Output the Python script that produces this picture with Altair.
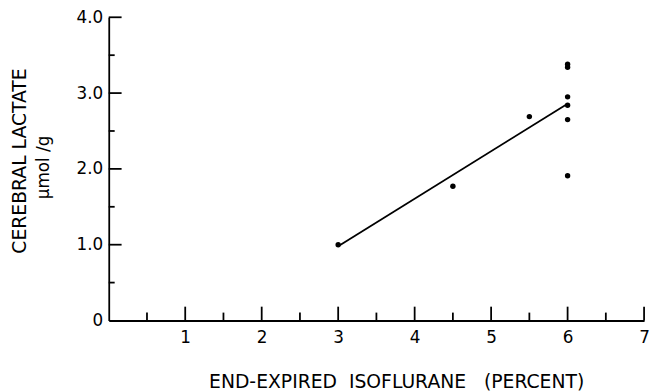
import altair as alt
import pandas as pd

# ---- data ----
conc = [3.0, 4.5, 5.5, 6.0, 6.0, 6.0, 6.0, 6.0, 6.0]
lactate = [1.0, 1.77, 2.69, 3.38, 3.34, 2.95, 2.84, 2.65, 1.91]
fit_conc = [3.0, 6.0]
fit_lactate = [0.98, 2.86]

x_labels = [1, 2, 3, 4, 5, 6, 7]
y_labels = [0, 1, 2, 3, 4]
x_major = [1, 2, 3, 4, 5, 6, 7]
x_minor = [0.5, 1.5, 2.5, 3.5, 4.5, 5.5, 6.5]
y_major = [1, 2, 3, 4]
y_minor = [0.5, 1.5, 2.5, 3.5]

NB = "\u00a0"
x_title = "END-EXPIRED" + NB + " ISOFLURANE" + NB + NB + " (PERCENT)"
y_title = "CEREBRAL LACTATE"
unit_label = "\u00b5mol /g"

W, H = 542, 307
FONT = "DejaVu Sans"
SW = 1.8

xs = alt.Scale(domain=[0, 7], nice=False, zero=True)
ys = alt.Scale(domain=[0, 4], nice=False, zero=True)

pts = pd.DataFrame({"conc": conc, "lactate": lactate})
fit = pd.DataFrame({"conc": fit_conc, "lactate": fit_lactate})

x_axis = alt.Axis(
    values=x_labels, format="d", ticks=False, tickSize=0, grid=False,
    domainColor="black", domainWidth=SW,
    labelFont=FONT, labelFontSize=17, labelColor="black", labelPadding=9,
    labelFlush=False, labelOverlap=False,
    title=x_title, titleFont=FONT, titleFontSize=19, titleFontWeight="normal",
    titleColor="black", titleX=291, titleY=68, titleAlign="center",
    titleBaseline="alphabetic",
)
y_axis = alt.Axis(
    values=y_labels, ticks=False, tickSize=0, grid=False,
    labelExpr="datum.value == 0 ? '0' : format(datum.value, '.1f')",
    domainColor="black", domainWidth=SW,
    labelFont=FONT, labelFontSize=17, labelColor="black", labelPadding=6,
    labelFlush=False, labelOverlap=False, labelBaseline="middle",
    title=y_title, titleFont=FONT, titleFontSize=19, titleFontWeight="normal",
    titleColor="black", titleAngle=270, titleX=-84, titleY=145,
    titleAlign="center", titleBaseline="alphabetic",
)

X = alt.X("conc:Q", scale=xs, axis=x_axis)
Y = alt.Y("lactate:Q", scale=ys, axis=y_axis)

points = alt.Chart(pts).mark_circle(size=30, color="black", opacity=1).encode(x=X, y=Y)

line = alt.Chart(fit).mark_line(color="black", strokeWidth=SW).encode(x=X, y=Y)

def xticks(vals, length):
    return alt.Chart(pd.DataFrame({"conc": vals})).mark_rule(
        color="black", strokeWidth=SW
    ).encode(x=X, y=alt.value(H), y2=alt.value(H - length))

def yticks(vals, length):
    return alt.Chart(pd.DataFrame({"lactate": vals})).mark_rule(
        color="black", strokeWidth=SW
    ).encode(y=Y, x=alt.value(0), x2=alt.value(length))

unit = alt.Chart(pd.DataFrame({"t": [unit_label]})).mark_text(
    angle=270, font=FONT, fontSize=17, color="black",
    align="center", baseline="middle",
).encode(text="t:N", x=alt.value(-65), y=alt.value(152))

chart = alt.layer(
    points, line,
    xticks(x_major, 14), xticks(x_minor, 8),
    yticks(y_major, 13), yticks(y_minor, 6),
    unit,
).properties(
    width=W, height=H,
    autosize=alt.AutoSizeParams(type="none"),
    padding={"left": 102, "top": 7, "right": 6, "bottom": 70},
    background="white",
).configure_view(stroke=None)

chart.save("out.html", embed_options={"renderer": "svg", "actions": False})
